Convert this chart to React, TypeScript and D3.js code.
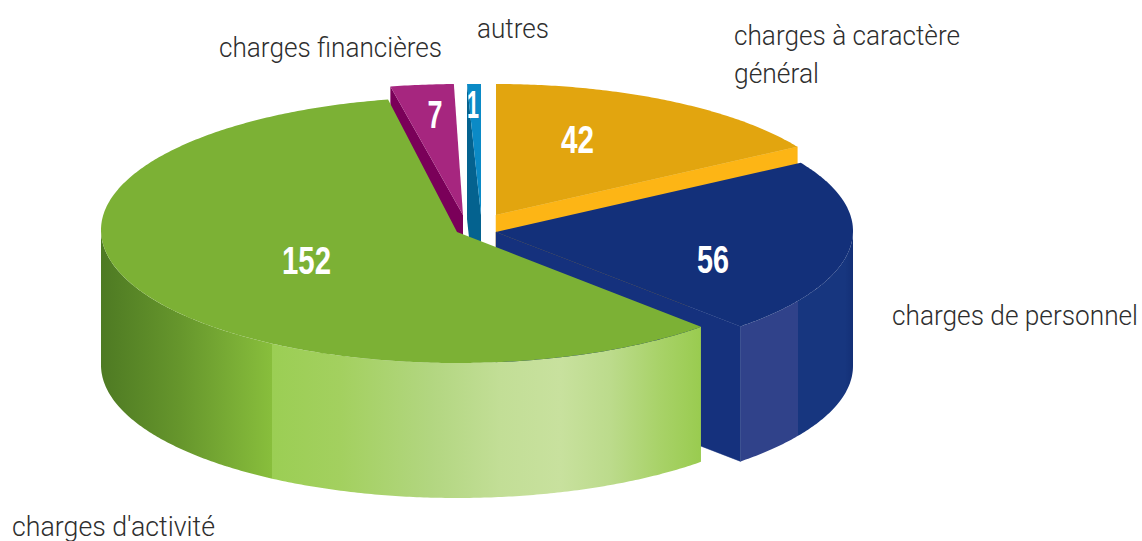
import React from "react";
import * as d3 from "d3";

const categories = ["charges à caractère général", "charges de personnel", "charges d'activité", "charges financières", "autres"];
const values = [42, 56, 152, 7, 1];

const WIDTH = 1142;
const HEIGHT = 541;
const DEPTH = 135;
const VALUE_FONT = "'Liberation Sans', sans-serif";
const NAME_FONT = "Roboto, 'Liberation Sans', sans-serif";

type Cfg = { cx: number; cy: number; rx: number; ry: number; apexDy?: number; top: string; face: string; wall?: string; minDeg?: number };

const layout: Cfg[] = [
  { cx: 496, cy: 215, rx: 353, ry: 131, top: "#E2A50F", face: "#FDB515" },
  { cx: 496, cy: 231, rx: 357, ry: 131, apexDy: 1, top: "#13307A", face: "#15317D", wall: "url(#navyWall)" },
  { cx: 457, cy: 230, rx: 356, ry: 133, apexDy: 2, top: "#7CB135", face: "#7CB135", wall: "url(#greenWall)" },
  { cx: 463, cy: 215, rx: 375, ry: 131, top: "#A6267F", face: "#7A0059" },
  { cx: 481, cy: 215, rx: 356, ry: 131, top: "#0B8AC6", face: "#04628F", minDeg: 2.25 },
];

const valueLabels = [
  { x: 577.5, y: 153, w: 33 },
  { x: 713, y: 273, w: 32 },
  { x: 306.5, y: 274, w: 49 },
  { x: 435, y: 128, w: 15 },
  { x: 473, y: 118, w: 12 },
];

const nameLabels = [
  { lines: ["charges à caractère", "général"], x: 734, y: [45, 83], w: [226, 85] },
  { lines: ["charges de personnel"], x: 892, y: [325], w: [246] },
  { lines: ["charges d'activité"], x: 12, y: [536], w: [203] },
  { lines: ["charges financières"], x: 219, y: [57], w: [223] },
  { lines: ["autres"], x: 477, y: [38], w: [72] },
];

const greenStops: [number, string][] = [
  [101, "#4E7A23"], [180, "#66962C"], [271.5, "#88BE3C"], [272, "#9BCE54"], [340, "#A3D05F"],
  [430, "#B2D680"], [500, "#C2DE96"], [560, "#C8E19E"], [610, "#BCDB8C"], [660, "#A8D268"], [702, "#99CB4F"],
];
const navyStops: [number, string][] = [
  [741, "#30428A"], [798, "#30428A"], [798.5, "#17367F"], [845, "#17367F"], [853, "#132F76"],
];

const pt = (c: Cfg, a: number, dy = 0): [number, number] => [
  c.cx + c.rx * Math.sin(a),
  c.cy - c.ry * Math.cos(a) + dy,
];
const line = d3.line();
const arcPts = (c: Cfg, a0: number, a1: number, dy = 0) => {
  const n = Math.max(2, Math.ceil(Math.abs(a1 - a0) / 0.01));
  return d3.range(n + 1).map((i) => pt(c, a0 + ((a1 - a0) * i) / n, dy));
};
const closed = (pts: [number, number][]) => line(pts) + "Z";

const Grad = ({ id, stops }: { id: string; stops: [number, string][] }) => {
  const x0 = stops[0][0];
  const x1 = stops[stops.length - 1][0];
  return (
    <linearGradient id={id} gradientUnits="userSpaceOnUse" x1={x0} x2={x1} y1={0} y2={0}>
      {stops.map(([x, col], i) => (
        <stop key={i} offset={(x - x0) / (x1 - x0)} stopColor={col} />
      ))}
    </linearGradient>
  );
};

export default function App() {
  const arcs = d3.pie<number>().sort(null).startAngle(0).endAngle(2 * Math.PI)(values);
  const slices = arcs.map((d, i) => {
    const c = layout[i];
    const start = c.minDeg ? Math.min(d.startAngle, d.endAngle - (c.minDeg * Math.PI) / 180) : d.startAngle;
    return { c, a0: start, a1: d.endAngle, i };
  });

  return (
    <svg width={WIDTH} height={HEIGHT} style={{ position: "absolute", left: 0, top: 0, background: "#fff" }}>
      <defs>
        <Grad id="greenWall" stops={greenStops} />
        <Grad id="navyWall" stops={navyStops} />
      </defs>

      {[4, 3, 0, 1, 2].map((idx) => {
        const { c, a0, a1 } = slices[idx];
        const apex: [number, number] = [c.cx, c.cy + (c.apexDy ?? 0)];
        const apexLow: [number, number] = [c.cx, apex[1] + DEPTH];
        const wallA0 = Math.max(a0, Math.PI / 2);
        const wallA1 = Math.min(a1, (3 * Math.PI) / 2);
        return (
          <g key={idx}>
            {idx < 2 && (
              <path d={closed([pt(c, a1), apex, apexLow, pt(c, a1, DEPTH)])} fill={c.face} stroke={c.face} strokeWidth={0.5} />
            )}
            {idx >= 3 && (
              <path d={closed([pt(c, a0), apex, apexLow, pt(c, a0, DEPTH)])} fill={c.face} />
            )}
            {c.wall && (
              <path
                d={closed([...arcPts(c, wallA0, wallA1), ...arcPts(c, wallA1, wallA0, DEPTH)])}
                fill={c.wall}
              />
            )}
            <path d={closed([apex, ...arcPts(c, a0, a1)])} fill={c.top} />
          </g>
        );
      })}

      {values.map((v, i) => (
        <text
          key={i}
          x={valueLabels[i].x}
          y={valueLabels[i].y}
          fontFamily={VALUE_FONT}
          fontWeight="bold"
          fontSize={38}
          fill="#fff"
          textAnchor="middle"
          textLength={valueLabels[i].w}
          lengthAdjust="spacingAndGlyphs"
        >
          {v}
        </text>
      ))}

      {nameLabels.map((l, i) =>
        l.lines.map((t, j) => (
          <text
            key={`${i}-${j}`}
            x={l.x}
            y={l.y[j]}
            fontFamily={NAME_FONT}
            fontWeight={300}
            fontSize={28}
            fill="#2E2E2E"
            textLength={l.w[j]}
            lengthAdjust="spacingAndGlyphs"
          >
            {t}
          </text>
        ))
      )}
    </svg>
  );
}
